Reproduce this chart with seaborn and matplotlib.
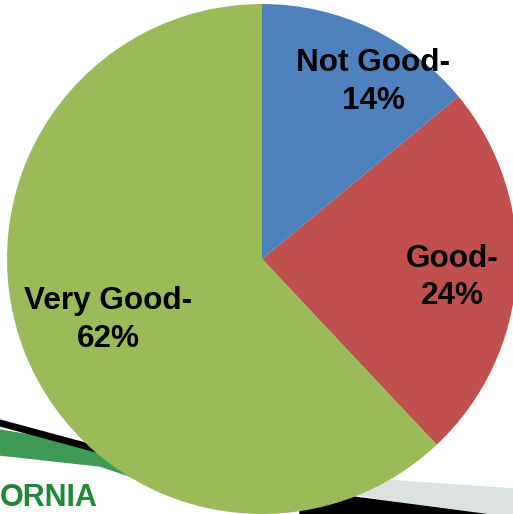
import numpy as np
import matplotlib.pyplot as plt
import seaborn as sns

categories = ['Not Good', 'Good', 'Very Good']
shares = [14, 24, 62]
colours = ['#4F81BD', '#C0504D', '#9BBB59']
# where each label sits: fraction of the radius, and turn (deg) off the wedge middle
label_radius = [0.82, 0.75, 0.65]
label_turn = [-7, -2, 0]

sns.set_theme(style='white')
plt.rcParams['font.family'] = ['Liberation Sans', 'DejaVu Sans']

W, H = 513, 514
fig = plt.figure(figsize=(W/100, H/100), dpi=100)
fig.patch.set_facecolor('white')

# scrap of the banner photo that sits behind the chart
bg = fig.add_axes([0, 0, 1, 1], zorder=0)
bg.set_xlim(0, W)
bg.set_ylim(H, 0)
bg.axis('off')
bg.fill([0, 100, 200, 200, 100, 0], [430, 447, 480, 500, 466, 455], color='#3f9a55')
bg.plot([0, 100, 200], [424, 451, 485], color='white', lw=1)
bg.plot([0, 100, 200], [423, 450, 484], color='black', lw=5)
bg.fill([340, 513, 513, 340], [477, 489, 520, 492], color='#dce2dd')
bg.fill([300, 513, 513, 300], [490, 518, 530, 530], color='black')
bg.text(0, 513, 'ORNIA', color='#1f8a33', fontsize=22, fontweight='bold', va='bottom', ha='left')

ax = fig.add_axes([7/W, 0, 510/W, 510/H], zorder=1)
ax.patch.set_alpha(0)
wedges, _ = ax.pie(shares, colors=colours, startangle=90, counterclock=False,
                   radius=1, wedgeprops=dict(linewidth=0))
ax.set_xlim(-1, 1)
ax.set_ylim(-1, 1)
ax.set_aspect('equal')

for w, name, pct, r, turn in zip(wedges, categories, shares, label_radius, label_turn):
  mid = np.deg2rad((w.theta1 + w.theta2) / 2 + turn)
  ax.text(r*np.cos(mid), r*np.sin(mid), '{}-\n{}%'.format(name, pct),
          ha='center', va='center', fontsize=22.7, fontweight='bold',
          color='black', linespacing=1.32)

fig.savefig('out.png', dpi=100)
